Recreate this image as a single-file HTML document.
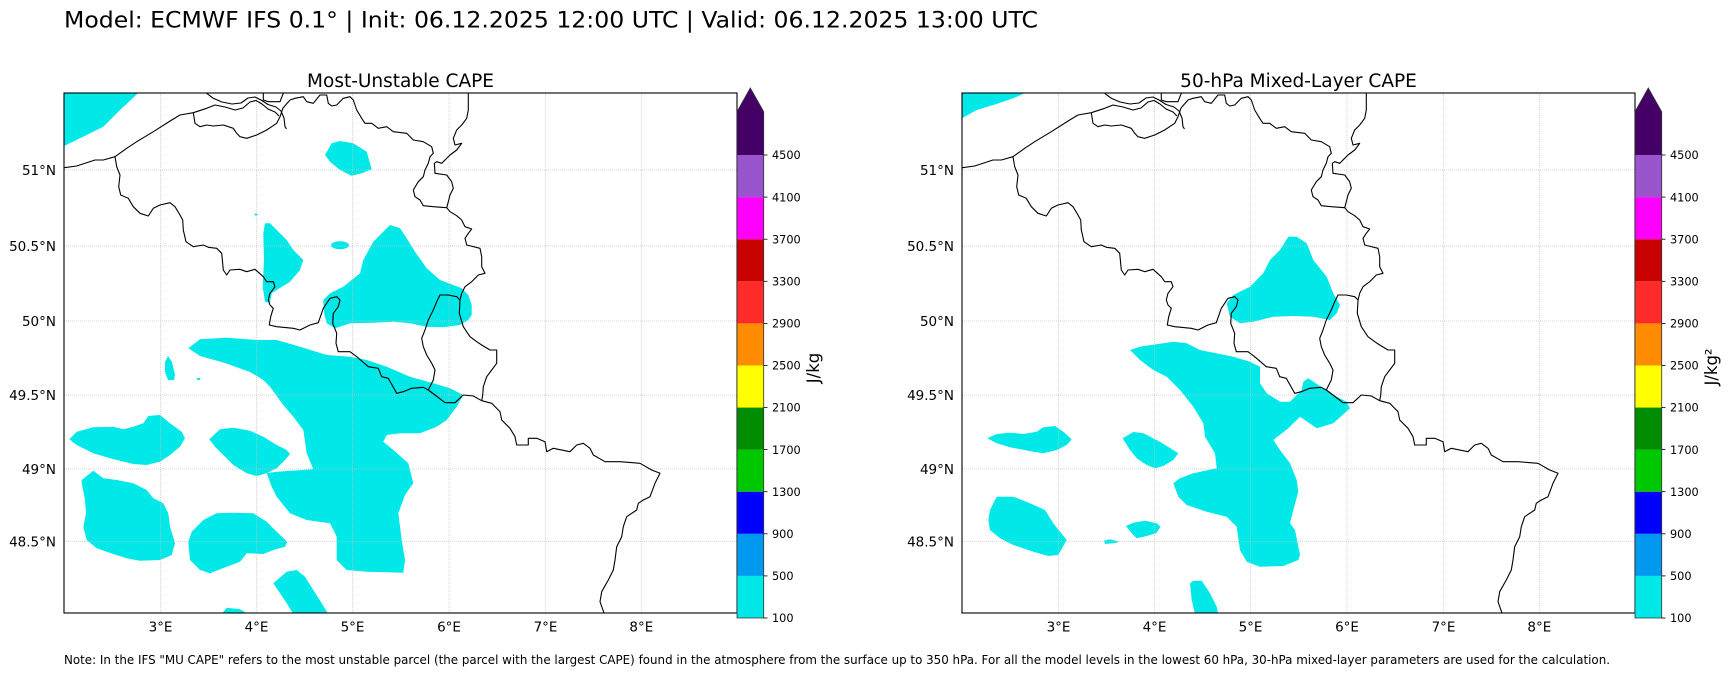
<!DOCTYPE html>
<html><head><meta charset="utf-8"><style>
html,body{margin:0;padding:0;background:#fff;}
svg{display:block;font-family:"DejaVu Sans","Liberation Sans",sans-serif;}
</style></head><body>
<svg width="1731" height="675" viewBox="0 0 1731 675" xmlns="http://www.w3.org/2000/svg">
<rect width="1731" height="675" fill="#fff"/>
<defs>
<clipPath id="ax"><rect x="64" y="93" width="673" height="520"/></clipPath>
<g id="grid" stroke="#c2c2c2" stroke-width="0.7" stroke-dasharray="1,1" fill="none">
<line x1="160.5" y1="93" x2="160.5" y2="613"/><line x1="256.5" y1="93" x2="256.5" y2="613"/>
<line x1="352.5" y1="93" x2="352.5" y2="613"/><line x1="449" y1="93" x2="449" y2="613"/>
<line x1="545.5" y1="93" x2="545.5" y2="613"/><line x1="641.3" y1="93" x2="641.3" y2="613"/>
<line x1="64" y1="170" x2="737" y2="170"/><line x1="64" y1="246" x2="737" y2="246"/>
<line x1="64" y1="321" x2="737" y2="321"/><line x1="64" y1="395" x2="737" y2="395"/>
<line x1="64" y1="469" x2="737" y2="469"/><line x1="64" y1="541.7" x2="737" y2="541.7"/>
</g>
<g id="borders" fill="none" stroke="#000" stroke-width="1.1" stroke-linejoin="round">
<path d="M64.3,167.7 L76.7,166 L95,160 L103.3,160 L115,156.7 L126.7,148.3 L136.7,141.7 L153.3,131.7 L171.7,120 L180,115 L193.3,112.7 L206.7,108.3 L215,105 L225,107 L235,110 L243,108 L250,102 L256,100.5 L262,104 L268,109 L275,112 L279,116"/>
<path d="M206.7,93.3 L213.3,98.3 L222,102 L232,104 L241,103 L248,98 L255,97 L261,100 L268,104.5 L276,107 L281,111 L284,118 L285,126.7 L286.5,129"/>
<path d="M193.3,112.7 L195,123.3 L200,126.7 L206.7,125 L213.3,126 L223.3,125 L233.3,128.3 L236.7,133.3 L240,136.7 L246.7,138.3 L256.7,135 L266.7,130 L276.7,123.3 L280,116.7 L283,108 L290,100"/>
<path d="M263.3,93.3 L263.3,100 L268.3,101.7 L280,101.7 L283.3,93.3"/>
<path d="M290,100 L295,98.3 L303.3,96.7 L306.7,101.7 L313.3,103.3 L320,95 L326.7,95 L328.3,103.3 L331.7,106 L336.7,105 L343.3,98.3 L350,96.7 L353.3,100 L356.7,110 L361.7,118.3 L365,123.3 L371.7,123.3 L378.3,128.3 L386.7,126.7 L393.3,131.7 L406.7,133.3 L413.3,140 L423.3,141.7 L431.7,146.7 L433.3,153.3 L430,156.7 L428.3,163.3 L425,170 L423.3,176.7 L418.3,181.7 L413.3,190 L415,196.7 L420,200 L423.3,205.7 L433.3,206.7 L446.7,207.7 L450,211.7 L456.7,215.7 L461.7,220 L465,226.7 L471.7,229 L468.3,233.3 L465,238.3 L466.7,245 L480,248.3 L481.7,256.7 L481.7,266.7 L485,273.3 L478.3,275 L471.7,281.7 L465,286.7 L461.7,293.3 L460,300"/>
<path d="M468.3,93.3 L468.3,110 L466.7,118.3 L461.7,125 L456.7,130 L453.3,138.3 L455,145 L461.7,143.3 L456.7,150 L450,155 L441.7,163.3 L436.7,161.7 L434.3,163.3 L435,173.3 L446.7,175 L451.7,181.7 L453.3,188.3 L450,195 L448.3,201.7 L446.7,207.7"/>
<path d="M115,156.7 L116.7,166.7 L120,175 L118.7,186.7 L120.7,195 L128.3,198.3 L133.3,206.7 L140,213.3 L148.3,216 L153.3,208.3 L160,205 L170,202.7 L175,206.7 L180,215 L182.7,220 L183.3,230 L186,241.7 L193.3,246.7 L203.3,245 L208.3,247.3 L216.7,248.3 L221.7,253.3 L223.3,270 L226.7,275 L230,270 L240,269.3 L246.7,271.7 L255,269.3 L263.3,276.7 L266.7,281.7 L273.3,281.7 L275,286.7 L270,293.3 L268.3,300 L270,305 L273.3,308.3 L270.7,316.7 L269.3,325 L276.7,326.7 L293.3,328.3 L300,330 L310,325 L318.3,322.7 L323.3,308.3 L330,298.3 L336.7,296.7 L340,300 L338.3,306.7 L333.3,313.3 L332.7,323.3 L336.7,333.3 L336,343.3 L338.3,351.7 L350,351.7 L356.7,356.7 L368.3,366.7 L378.3,368.3 L381.7,376.7 L388.3,378.3 L396.7,393.3 L403.3,391.7 L411.7,388.3 L423.3,387.3 L428.3,390 L435,395 L445,402.7 L455,402.7 L463.3,395 L473.3,396 L481.7,400.7 L491.7,403.3 L500,411.7 L501.7,420 L510,428.3 L515,436.7 L516.7,445 L528.3,445 L528.3,438.3 L536.7,438.3 L545,441.7 L546.7,451.7 L553.3,448.3 L570,451.7 L576.7,445 L583.3,443.3 L590,448.3 L593.3,455 L605,461.7 L620,461.7 L640,463.3 L651.7,470 L660,473.3 L655,483.3 L650,496.7 L643.3,500 L638.3,503.3 L636.7,510 L626.7,516.7 L623.3,526.7 L621.7,536.7 L616.7,546.7 L615,560 L613.3,570 L608.3,580 L601.7,591.7 L600,601.7 L604,613"/>
<path d="M428.3,390 L433.3,380 L435,370 L431.7,363.3 L426.7,355 L423.3,346.7 L421.7,338.3 L425,330 L428.3,320 L433.3,310 L436.7,301.7 L440,295 L448.3,295 L456.7,296.7 L460,300 L459.3,313.3 L463.3,326.7 L470,336.7 L476.7,341.7 L481.7,345 L490,350 L496.7,350 L496.7,363.3 L491.7,370 L486.7,376.7 L483.3,386.7 L482.7,395 L481.7,400.7"/>
</g>
</defs>

<!-- Suptitle -->
<text x="64" y="27.3" font-size="22.5" textLength="974" lengthAdjust="spacingAndGlyphs" fill="#000">Model: ECMWF IFS 0.1° | Init: 06.12.2025 12:00 UTC | Valid: 06.12.2025 13:00 UTC</text>

<!-- LEFT PANEL -->
<g>
<text x="400.5" y="87" font-size="18.5" text-anchor="middle" fill="#000">Most-Unstable CAPE</text>
<g clip-path="url(#ax)">
<g fill="#00E8E8" stroke="none">
<polygon points="64,93 138.3,93 120,110 103.3,126.7 86.7,135 64,146"/>
<polygon points="325,155 331.7,143.3 340,141 353.3,143.3 366.7,151.7 371.7,169.3 361.7,173.3 351.7,175.7 340,170 330,161.7"/>
<polygon points="265,223.3 263.3,233.3 264,260 262.7,286.7 265,301.7 270,302.7 271.7,293.3 276.7,290 290,281.7 300,270 303.3,260 293.3,250 286.7,240 276.7,230 270,223.3"/>
<ellipse cx="340" cy="245.3" rx="9" ry="4"/>
<ellipse cx="256" cy="214.5" rx="1.5" ry="1"/>
<polygon points="323.3,300 330,293.3 343.3,286.7 360,273.3 363.3,260 373.3,241.7 390,225 400,228.3 406.7,238.3 415,251.7 426.7,268.3 440,280 453.3,285 461.7,288.3 468.3,295 471.7,305 471.7,315 468.3,320 460,325 443.3,327.3 426.7,326.7 410,323.3 393.3,321.7 373.3,322.7 350,323.3 335,328.3 326.7,323.3 324,313.3"/>
<polygon points="188.3,348.3 200,339.3 226.7,337.7 256.7,340 276.7,340 300,346.7 326.7,355 350,356.7 366.7,360 386.7,366.7 410,376.7 433.3,383.3 450,388.3 463.3,395 456.7,406.7 446.7,420 436.7,426.7 420,433.3 400,433.3 386.7,435 383.3,441.7 393.3,450 408.3,463.3 413.3,483.3 405,495 398.3,513.3 401.7,540 405,560 403.3,572.7 366.7,571.7 346.7,570 336.7,560 336.7,536.7 330,523.3 306.7,520 290,513.3 276.7,496.7 271.7,486.7 266.7,473.3 276.7,471.7 313.3,469.3 306.7,453.3 303.3,430 293.3,416.7 283.3,405 270,386.7 263.3,380 250,372 225,363 200,356"/>
<polygon points="165,362 168,356 172,362 175,375 174,380 168,380 165,372"/>
<ellipse cx="198.5" cy="379" rx="2" ry="1"/>
<polygon points="69.3,439.3 76.7,431.7 93.3,427.3 113.3,426.7 123.3,429.3 133.3,426.7 143.3,423.3 148.3,416 160,415 170,423.3 181.7,431.7 185,438.3 180,446.7 170,455 160,461.7 146.7,465 133.3,464 110,458.3 93.3,453.3 76.7,445"/>
<polygon points="209.3,439.3 220,429.3 233.3,427.7 250,430.7 263.3,436.7 276.7,445 286.7,450 290,454 285,460 276.7,468.3 266.7,473.3 256.7,476 246.7,473.3 233.3,465 223.3,455 215,446.7"/>
<polygon points="81.7,480 93.3,470.7 103.3,478.3 116.7,480 133.3,483.3 146.7,490 153.3,498.3 163.3,503.3 168.3,513.3 170,526.7 175,543.3 171.7,555 160,560 140,560.7 126.7,558.3 113.3,554 96.7,548.3 86.7,540 83.3,526.7 86,513.3 85,500 81.7,483.3"/>
<polygon points="188.3,541.7 191.7,531.7 203.3,520 216.7,513.3 233.3,512.7 253.3,513.3 266.7,521.7 276.7,531.7 287.3,541.7 285,546.7 273.3,550 263.3,554 246.7,553.3 240,561.7 226.7,566.7 210,573.3 200,570 190,560"/>
<polygon points="273.3,583.3 286.7,571.7 296.7,570 305,576.7 313.3,590 321.7,603.3 328.3,614 293.3,614 286.7,603.3 280,593.3"/>
<polygon points="221.7,614 226.7,607.7 240,609.3 248.3,614"/>
</g>
<use href="#grid"/>
<use href="#borders"/>
</g>
<rect x="64" y="93" width="673" height="520" fill="none" stroke="#000" stroke-width="1.1"/>
</g>

<!-- RIGHT PANEL -->
<g transform="translate(898,0)">
<text x="400.5" y="87" font-size="18.5" text-anchor="middle" fill="#000">50-hPa Mixed-Layer CAPE</text>
<g clip-path="url(#ax)">
<g fill="#00E8E8" stroke="none">
<polygon points="64,93 127,93 115.3,98.3 95.3,105 78.7,110 64,118.3"/>
<polygon points="328.7,303.3 335.3,295 352,286.7 365.3,273.3 372,260 382,250 390.3,236.7 398.7,236.7 408.7,243.3 415.3,260 428.7,276.7 435.3,293.3 442,305 438.7,313.3 432,320 415.3,316.7 395.3,316 375.3,316.7 355.3,321.7 342,323.3 332,316.7"/>
<polygon points="232,350 242,346.7 275.3,341.7 288.7,343.3 302,350 335.3,356.7 352,361.7 362,366.7 362,383.3 368.7,393.3 382,401.7 392,401.7 403.7,390 405.3,381.7 410.3,378.3 425.3,388.3 438.7,396.7 448.7,401.7 452,408.3 435.3,423.3 418.7,428.3 402,416.7 390.3,428.3 375.3,440 382,450 392,463.3 398.7,480 400.3,491.7 395.3,510 392,523.3 397,530 402,555 400.3,560 385.3,566 362,566.7 348.7,561.7 342,550 338.7,526.7 328.7,516.7 308.7,511.7 288.7,505 280.3,496.7 275.3,483.3 282,478.3 295.3,473.3 318.7,468.3 317,453.3 307,436.7 305.3,423.3 295.3,406.7 282,390 268.7,376.7 255.3,370 242,360"/>
<polygon points="89.3,438.3 98.7,434 112,432.7 125.3,434 138.7,431.7 145.3,427.3 157,426 165.3,431.7 173.7,439.3 168.7,445 158.7,450 145.3,453.3 135.3,451.7 112,447.3 98.7,443.3"/>
<polygon points="224.7,438.3 235.3,432 245.3,433.3 262,441.7 280.3,453.3 275.3,460 265.3,466 257,468.3 248.7,465 238.7,458.3 232,450"/>
<polygon points="92,510 98.7,496.7 115.3,496.7 132,503.3 147,510 155.3,523.3 168.7,540 160.3,555 150.3,556 135.3,551.7 115.3,545 102,538.3 92,530 90.3,520"/>
<polygon points="206,540.7 212,539.3 222,541.7 215.3,543.3 207,544"/>
<polygon points="228,526 235.3,522.7 247,520.7 258.7,523.3 262.7,526.7 258,533.3 248.7,536 238.7,538.3 233.7,533.3"/>
<polygon points="292,583.3 295.3,580.7 303.7,580.7 312,593.3 318.7,606.7 320.3,614 297,614 293.7,600"/>
</g>
<use href="#grid"/>
<use href="#borders"/>
</g>
<rect x="64" y="93" width="673" height="520" fill="none" stroke="#000" stroke-width="1.1"/>
</g>

<!-- Axis tick labels for both panels -->
<g font-size="13.5" fill="#000">
<g text-anchor="end">
<text x="56" y="175">51°N</text><text x="56" y="251">50.5°N</text><text x="56" y="326">50°N</text>
<text x="56" y="400">49.5°N</text><text x="56" y="474">49°N</text><text x="56" y="546.7">48.5°N</text>
<text x="954" y="175">51°N</text><text x="954" y="251">50.5°N</text><text x="954" y="326">50°N</text>
<text x="954" y="400">49.5°N</text><text x="954" y="474">49°N</text><text x="954" y="546.7">48.5°N</text>
</g>
<g text-anchor="middle">
<text x="160.5" y="631.5">3°E</text><text x="256.5" y="631.5">4°E</text><text x="352.5" y="631.5">5°E</text>
<text x="449" y="631.5">6°E</text><text x="545.5" y="631.5">7°E</text><text x="641.3" y="631.5">8°E</text>
<text x="1058.5" y="631.5">3°E</text><text x="1154.5" y="631.5">4°E</text><text x="1250.5" y="631.5">5°E</text>
<text x="1347" y="631.5">6°E</text><text x="1443.5" y="631.5">7°E</text><text x="1539.3" y="631.5">8°E</text>
</g>
</g>

<!-- Colorbars -->
<g id="cb">
<rect x="737" y="575.9" width="26.7" height="42.1" fill="#00E8E8"/>
<rect x="737" y="533.8" width="26.7" height="42.1" fill="#0099F0"/>
<rect x="737" y="491.7" width="26.7" height="42.1" fill="#0000FF"/>
<rect x="737" y="449.6" width="26.7" height="42.1" fill="#00C800"/>
<rect x="737" y="407.5" width="26.7" height="42.1" fill="#008C00"/>
<rect x="737" y="365.5" width="26.7" height="42.1" fill="#FFFF00"/>
<rect x="737" y="323.4" width="26.7" height="42.1" fill="#FF8C00"/>
<rect x="737" y="281.3" width="26.7" height="42.1" fill="#FF2A2A"/>
<rect x="737" y="239.2" width="26.7" height="42.1" fill="#C80000"/>
<rect x="737" y="197.1" width="26.7" height="42.1" fill="#FF00FF"/>
<rect x="737" y="155" width="26.7" height="42.1" fill="#9955CC"/>
<polygon points="737,155 737,111.7 750.3,88 763.7,111.7 763.7,155" fill="#440066"/>
<polygon points="737,618 737,111.7 750.3,88 763.7,111.7 763.7,618" fill="none" stroke="#333" stroke-width="0.8"/>
<g stroke="#000" stroke-width="0.8">
<line x1="763.7" y1="618" x2="767.5" y2="618"/><line x1="763.7" y1="575.9" x2="767.5" y2="575.9"/>
<line x1="763.7" y1="533.8" x2="767.5" y2="533.8"/><line x1="763.7" y1="491.7" x2="767.5" y2="491.7"/>
<line x1="763.7" y1="449.6" x2="767.5" y2="449.6"/><line x1="763.7" y1="407.5" x2="767.5" y2="407.5"/>
<line x1="763.7" y1="365.5" x2="767.5" y2="365.5"/><line x1="763.7" y1="323.4" x2="767.5" y2="323.4"/>
<line x1="763.7" y1="281.3" x2="767.5" y2="281.3"/><line x1="763.7" y1="239.2" x2="767.5" y2="239.2"/>
<line x1="763.7" y1="197.1" x2="767.5" y2="197.1"/><line x1="763.7" y1="155" x2="767.5" y2="155"/>
</g>
<g font-size="11.3" fill="#000">
<text x="772" y="622.2">100</text><text x="772" y="580.1">500</text><text x="772" y="538">900</text>
<text x="772" y="495.9">1300</text><text x="772" y="453.8">1700</text><text x="772" y="411.7">2100</text>
<text x="772" y="369.7">2500</text><text x="772" y="327.6">2900</text><text x="772" y="285.5">3300</text>
<text x="772" y="243.4">3700</text><text x="772" y="201.3">4100</text><text x="772" y="159.2">4500</text>
</g>
</g>
<text transform="translate(819,368) rotate(-90)" font-size="16.5" text-anchor="middle" fill="#000">J/kg</text>
<use href="#cb" transform="translate(898,0)"/>
<text transform="translate(1717,367) rotate(-90)" font-size="16.5" text-anchor="middle" fill="#000">J/kg²</text>

<!-- Note -->
<text x="64" y="664" font-size="12" textLength="1546" lengthAdjust="spacingAndGlyphs" fill="#000">Note: In the IFS "MU CAPE" refers to the most unstable parcel (the parcel with the largest CAPE) found in the atmosphere from the surface up to 350 hPa. For all the model levels in the lowest 60 hPa, 30-hPa mixed-layer parameters are used for the calculation.</text>
</svg>
</body></html>
